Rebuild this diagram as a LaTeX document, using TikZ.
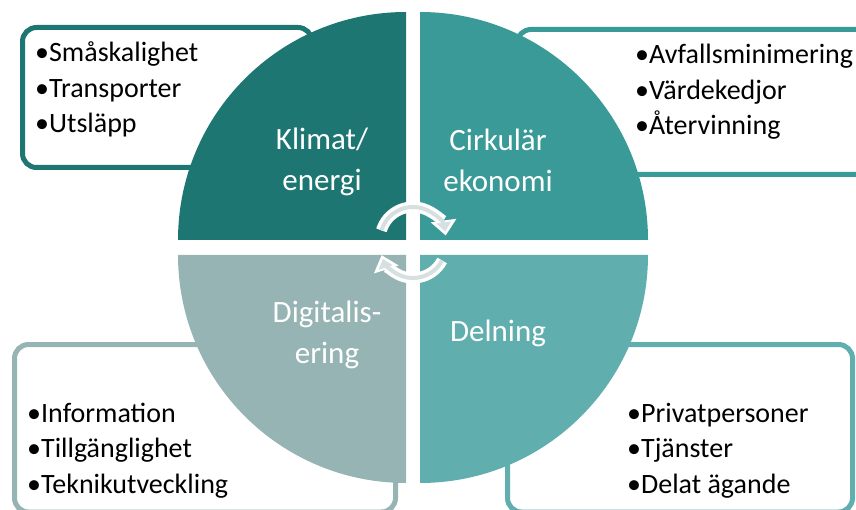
\documentclass[tikz,border=0pt]{standalone}
\usepackage{fontspec}
\setmainfont{Carlito}
\usetikzlibrary{arrows.meta, positioning, calc}
\definecolor{klimatcol}{RGB}{30,118,114}
\definecolor{cirkcol}{RGB}{58,154,151}
\definecolor{digitcol}{RGB}{150,180,179}
\definecolor{delncol}{RGB}{96,174,173}
\definecolor{ringgray}{RGB}{214,224,224}
\tikzset{
    listbox/.style={rounded corners=14pt, line width=5pt},
    bullets/.style={anchor=base west, align=left, inner sep=0pt, font=\fontsize{28}{35.5}\selectfont},
    quadtext/.style={align=center, inner sep=0pt, text=white, font=\fontsize{31}{41}\selectfont},
    ringouter/.style={draw=white, line width=11pt, -{Triangle[length=15pt, width=26pt, line width=0pt]}},
    ringinner/.style={draw=ringgray, line width=4pt, shorten >=4pt, -{Triangle[length=9pt, width=15pt, line width=0pt]}},
}

\begin{document}
\begin{tikzpicture}[x=1pt, y=1pt]
    \useasboundingbox (0,0) rectangle (856,509);
    \clip (0,0) rectangle (856,509);
    % frames behind the pie
    \draw[listbox, draw=klimatcol] (22.5,481.5) rectangle (312,341.5);
    \draw[listbox, draw=cirkcol] (517,479.5) rectangle (890,334.5);
    \draw[listbox, draw=digitcol] (14.5,164.5) rectangle (395.5,-3);
    \draw[listbox, draw=delncol] (507.5,164.5) rectangle (852.5,-3);
    % quarter pieces
    \coordinate (tl) at (406,269);
    \coordinate (tr) at (420,269);
    \coordinate (bl) at (406,254);
    \coordinate (br) at (420,254);
    \fill[klimatcol] (tl) -- ++(-228,0) arc[start angle=180, end angle=90, radius=228] -- cycle;
    \fill[cirkcol] (tr) -- ++(0,228) arc[start angle=90, end angle=0, radius=228] -- cycle;
    \fill[digitcol] (bl) -- ++(0,-228) arc[start angle=270, end angle=180, radius=228] -- cycle;
    \fill[delncol] (br) -- ++(228,0) arc[start angle=0, end angle=-90, radius=228] -- cycle;
    \node[quadtext] (klimat) at (322,347) {Klimat/\\energi};
    \node[quadtext] (cirkular) at (498,349) {Cirkulär\\ekonomi};
    \node[quadtext] (digital) at (327,174) {Digitalis-\\ering};
    \node[quadtext] (delning) at (498,176) {Delning};
    % bullet lists (base sits on the last line)
    \node[bullets] (klimatlist) at (35,376) {•Småskalighet\\•Transporter\\•Utsläpp};
    \node[bullets] (cirklist) at (635,374) {•Avfallsminimering\\•Värdekedjor\\•Återvinning};
    \node[bullets] (digitlist) at (27,16) {•Information\\•Tillgänglighet\\•Teknikutveckling};
    \node[bullets] (delnlist) at (627,16) {•Privatpersoner\\•Tjänster\\•Delat ägande};
    % cycle arrows in the middle
    \coordinate (upc) at (413,269);
    \coordinate (loc) at (413,264);
    \draw[ringouter] ([shift={(163:33)}]upc) arc[start angle=163, end angle=8, radius=33];
    \draw[ringinner] ([shift={(163:33)}]upc) arc[start angle=163, end angle=8, radius=33];
    \draw[ringouter] ([shift={(-28:33)}]loc) arc[start angle=-28, end angle=-162, radius=33];
    \draw[ringinner] ([shift={(-28:33)}]loc) arc[start angle=-28, end angle=-162, radius=33];
\end{tikzpicture}
\end{document}
